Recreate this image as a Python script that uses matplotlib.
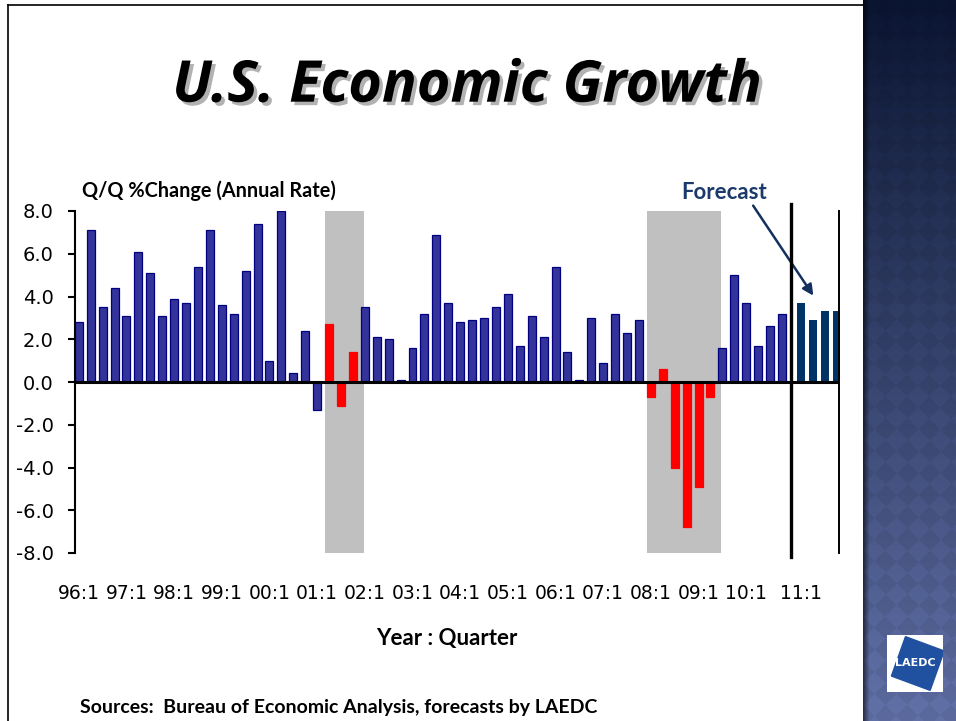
import numpy as np
import matplotlib
matplotlib.use("Agg")
import matplotlib.pyplot as plt
import matplotlib.patheffects as pe
from matplotlib.patches import Polygon
from matplotlib.lines import Line2D

# =========================================================
# DATA  (real GDP, Q/Q % change, annual rate)
# =========================================================
quarters = [f"{y % 100:02d}:{q}" for y in range(1996, 2011) for q in range(1, 5)]
gdp_actual = [
    2.8, 7.1, 3.5, 4.4,   # 1996
    3.1, 6.1, 5.1, 3.1,   # 1997
    3.9, 3.7, 5.4, 7.1,   # 1998
    3.6, 3.2, 5.2, 7.4,   # 1999
    1.0, 8.0, 0.4, 2.4,   # 2000
    -1.3, 2.7, -1.1, 1.4, # 2001
    3.5, 2.1, 2.0, 0.1,   # 2002
    1.6, 3.2, 6.9, 3.7,   # 2003
    2.8, 2.9, 3.0, 3.5,   # 2004
    4.1, 1.7, 3.1, 2.1,   # 2005
    5.4, 1.4, 0.1, 3.0,   # 2006
    0.9, 3.2, 2.3, 2.9,   # 2007
    -0.7, 0.6, -4.0, -6.8, # 2008
    -4.9, -0.7, 1.6, 5.0, # 2009
    3.7, 1.7, 2.6, 3.2,   # 2010
]
forecast_quarters = ["11:1", "11:2", "11:3", "11:4"]
gdp_forecast = [3.7, 2.9, 3.3, 3.3]

# recession periods (first, last quarter)
recessions = [("01:2", "01:4"), ("08:1", "09:2")]

y_ticks = [-8, -6, -4, -2, 0, 2, 4, 6, 8]

# =========================================================
# STYLE
# =========================================================
W, H = 956, 721
BAR_BLUE = "#333399"
BAR_EDGE = "#000080"
REC_RED = "#ff0000"
FC_BLUE = "#003366"
TXT_FONT = ["Lato", "DejaVu Sans"]
TITLE_FONT = ["Open Sans", "DejaVu Sans"]


def px(x0, y0, w, h):
    # pixel box (top-left origin) -> figure fraction
    return [x0 / W, 1 - (y0 + h) / H, w / W, h / H]


fig = plt.figure(figsize=(W / 100, H / 100), dpi=100)
fig.patch.set_facecolor("white")

# ---------------- right decorative panel ----------------
pan = fig.add_axes(px(863, 0, 93, 721))
rows, cols = 721, 93
t = np.linspace(0, 1, rows)[:, None]
top = np.array([0.04, 0.08, 0.19])
bot = np.array([0.37, 0.43, 0.64])
img = top[None, None, :] * (1 - t[..., None]) + bot[None, None, :] * t[..., None]
img = np.repeat(img, cols, axis=1)
yy, xx = np.mgrid[0:rows, 0:cols]
d = 44.0
pattern = np.sign(np.sin(2 * np.pi * (xx + yy) / d) * np.sin(2 * np.pi * (xx - yy) / d))
img = img * (1 + 0.035 * pattern[..., None])
shade = np.ones(cols)
shade[:7] = np.linspace(0.45, 1.0, 7)
img = img * shade[None, :, None]
pan.imshow(np.clip(img, 0, 1), aspect="auto", interpolation="bilinear")
pan.axis("off")

# logo
logo = fig.add_axes(px(887, 635, 56, 57))
logo.set_xlim(0, 1)
logo.set_ylim(0, 1)
logo.set_facecolor("white")
ang = np.deg2rad(np.array([115, 25, -65, 205]))
sq = np.column_stack([0.55 + 0.52 * np.cos(ang), 0.5 + 0.52 * np.sin(ang)])
logo.add_patch(Polygon(sq, closed=True, color="#2050a0", clip_on=True))
logo.text(0.5, 0.5, "LAEDC", color="white", fontsize=8, fontweight="bold",
          ha="center", va="center", family="DejaVu Sans")
logo.set_xticks([])
logo.set_yticks([])
for s in logo.spines.values():
    s.set_visible(False)

# slide frame
fig.add_artist(Line2D([8 / W, 8 / W], [1 - 5 / H, 0], color="black", lw=1.2))
fig.add_artist(Line2D([8 / W, 863 / W], [1 - 5 / H, 1 - 5 / H], color="black", lw=1.2))

# =========================================================
# CHART
# =========================================================
ax = fig.add_axes(px(74.7, 211, 765.1, 342))
ax.set_xlim(-0.34, 63.85)
ax.set_ylim(-8, 8)

x_hist = np.arange(len(gdp_actual))
x_fc = len(gdp_actual) + 0.6 + np.arange(len(gdp_forecast))

rec_idx = set()
for q0, q1 in recessions:
    i0, i1 = quarters.index(q0), quarters.index(q1)
    rec_idx.update(range(i0, i1 + 1))
    ax.axvspan(i0 - 0.33, i1 + 0.9, color="#c0c0c0", lw=0, zorder=0)

colors = [REC_RED if i in rec_idx else BAR_BLUE for i in x_hist]
edges = [REC_RED if i in rec_idx else BAR_EDGE for i in x_hist]
ax.bar(x_hist, gdp_actual, width=0.67, color=colors, edgecolor=edges,
       linewidth=0.9, zorder=2)
ax.bar(x_fc, gdp_forecast, width=0.67, color=FC_BLUE, linewidth=0, zorder=2)

ax.axhline(0, color="black", lw=2.2, zorder=3)
# divider between actual and forecast, and right edge line
ax.plot([59.75, 59.75], [8.33, -8.2], color="black", lw=2.4, clip_on=False, zorder=4)
ax.plot([63.82, 63.82], [8, -8], color="black", lw=1.4, clip_on=False, zorder=4)

for s in ["top", "right", "bottom"]:
    ax.spines[s].set_visible(False)
ax.spines["left"].set_linewidth(1.5)

ax.set_yticks(y_ticks)
ax.set_yticklabels([f"{v:.1f}" for v in y_ticks])
ax.tick_params(axis="y", direction="out", length=5, width=1.5, pad=10,
               labelsize=14)

all_q = quarters + forecast_quarters
all_x = list(x_hist) + list(x_fc)
tick_pos = [x for q, x in zip(all_q, all_x) if q.endswith(":1")]
tick_lab = [q for q in all_q if q.endswith(":1")]
ax.set_xticks(tick_pos)
ax.set_xticklabels(tick_lab)
ax.tick_params(axis="x", length=0, pad=22, labelsize=13.5)

# forecast annotation
ax.annotate("", xy=(61.76, 3.93), xytext=(56.45, 8.36),
            arrowprops=dict(arrowstyle="-|>", color="#14305e", lw=1.8,
                            mutation_scale=16), annotation_clip=False)

# =========================================================
# TEXT
# =========================================================
fig.text(467 / W, 1 - 101.7 / H, "U.S. Economic Growth", fontsize=41.5,
         fontweight="bold", style="italic", family=TITLE_FONT,
         ha="center", va="baseline",
         path_effects=[pe.withSimplePatchShadow(offset=(2.5, -2.5),
                                                shadow_rgbFace="#7f7f7f", alpha=0.6)])
fig.text(82 / W, 1 - 197 / H, "Q/Q %Change (Annual Rate)", fontsize=14.3,
         fontweight="bold", family=TXT_FONT, ha="left", va="baseline")
fig.text(681.7 / W, 1 - 199.3 / H, "Forecast", fontsize=16,
         fontweight="bold", family=TXT_FONT, color="#1b3a6b",
         ha="left", va="baseline")
fig.text(447 / W, 1 - 645 / H, "Year : Quarter", fontsize=16,
         fontweight="bold", family=TXT_FONT, ha="center", va="baseline")
fig.text(80 / W, 1 - 713 / H,
         "Sources:  Bureau of Economic Analysis, forecasts by LAEDC",
         fontsize=14, fontweight="bold", family=TXT_FONT,
         ha="left", va="baseline")

fig.savefig("out.png", dpi=100)
